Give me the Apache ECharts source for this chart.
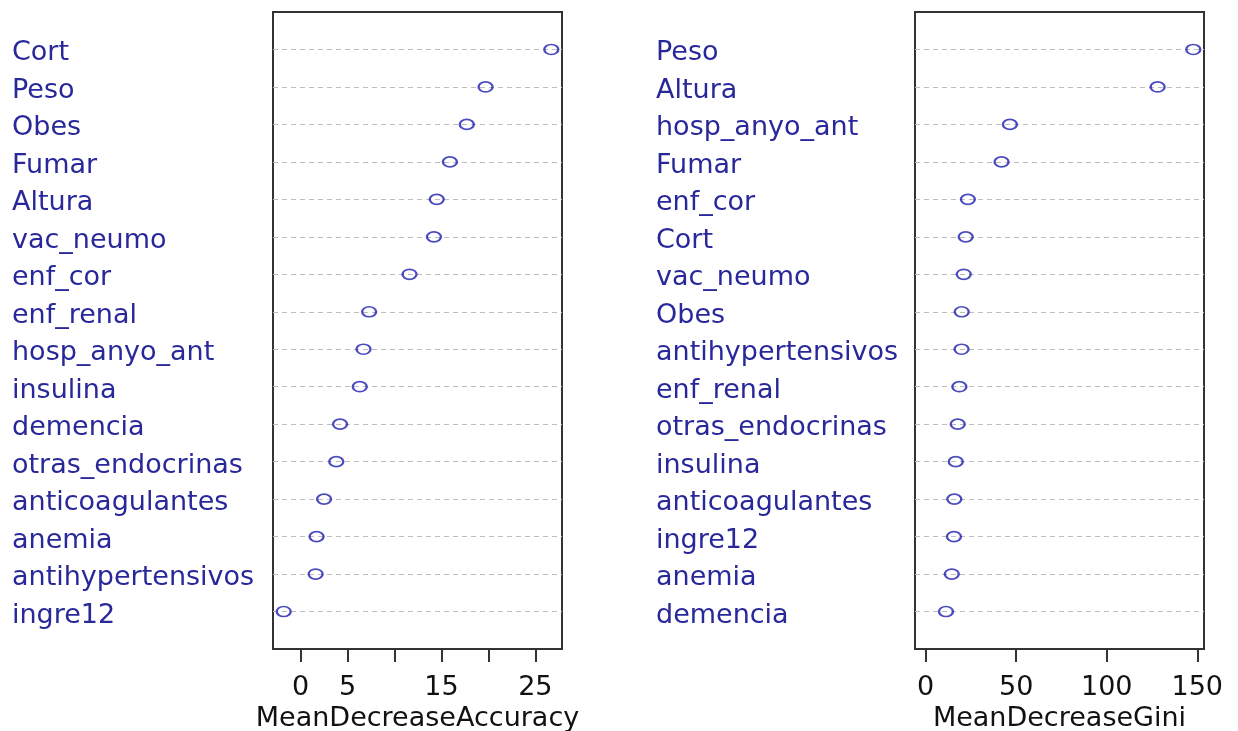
<!DOCTYPE html>
<html>
<head>
    <meta charset="utf-8">
    <title>Variable importance</title>
    <script src="https://cdn.jsdelivr.net/npm/echarts@6/dist/echarts.min.js"></script>
</head>
<body style="margin:0;background:#fff;">
    <div id="main" style="width:1238px;height:731px;"></div>
    <script type="text/javascript">
        // MeanDecreaseAccuracy panel, listed top to bottom
        var accLabels = ['Cort', 'Peso', 'Obes', 'Fumar', 'Altura', 'vac_neumo', 'enf_cor', 'enf_renal',
            'hosp_anyo_ant', 'insulina', 'demencia', 'otras_endocrinas', 'anticoagulantes', 'anemia',
            'antihypertensivos', 'ingre12'];
        var accValues = [26.7, 19.7, 17.7, 15.9, 14.5, 14.2, 11.6, 7.3, 6.7, 6.3, 4.2, 3.8, 2.5, 1.7, 1.6, -1.8];
        var accTicks = [0, 5, 10, 15, 20, 25];
        var accTickLabels = [0, 5, 15, 25];

        // MeanDecreaseGini panel, listed top to bottom
        var giniLabels = ['Peso', 'Altura', 'hosp_anyo_ant', 'Fumar', 'enf_cor', 'Cort', 'vac_neumo', 'Obes',
            'antihypertensivos', 'enf_renal', 'otras_endocrinas', 'insulina', 'anticoagulantes', 'ingre12',
            'anemia', 'demencia'];
        var giniValues = [147.8, 128.1, 46.5, 41.9, 23.3, 22.1, 21.0, 19.9, 19.8, 18.6, 17.7, 16.6, 15.8, 15.6, 14.4, 11.2];
        var giniTicks = [0, 50, 100, 150];
        var giniTickLabels = [0, 50, 100, 150];

        var font = 'DejaVu Sans';
        var labelBlue = '#28289a';
        var pointBlue = '#1e1eb0';

        // R-style range: data range padded by 4%
        function padRange(lo, hi) {
            var d = (hi - lo) * 0.04;
            return [lo - d, hi + d];
        }

        function toPoints(values) {
            var n = values.length;
            return values.map(function (v, i) { return [v, n - i]; });
        }

        function yAxisFor(idx, labels, margin) {
            var n = labels.length;
            return {
                gridIndex: idx,
                type: 'value',
                min: 0,
                max: n + 1,
                interval: 1,
                axisLine: { show: false },
                axisTick: { show: false },
                axisLabel: {
                    margin: margin,
                    align: 'left',
                    verticalAlign: 'top',
                    lineHeight: 8,
                    color: labelBlue,
                    fontFamily: font,
                    fontSize: 27,
                    formatter: function (v) {
                        return (v >= 1 && v <= n) ? labels[n - v] : '';
                    }
                },
                splitLine: {
                    show: true,
                    showMinLine: false,
                    showMaxLine: false,
                    lineStyle: { color: '#bdbdbd', type: [5, 4], width: 1 }
                }
            };
        }

        function xAxisFor(idx, range, ticks, tickLabels, name) {
            return {
                gridIndex: idx,
                type: 'value',
                min: range[0],
                max: range[1],
                axisLine: { show: false },
                axisTick: {
                    show: true,
                    length: 13,
                    customValues: ticks,
                    lineStyle: { color: '#333', width: 2 }
                },
                axisLabel: {
                    customValues: tickLabels,
                    margin: 25,
                    color: '#111',
                    fontFamily: font,
                    fontSize: 27
                },
                splitLine: { show: false },
                name: name,
                nameLocation: 'middle',
                nameGap: 54,
                nameTextStyle: { color: '#111', fontFamily: font, fontSize: 27 }
            };
        }

        var accRange = padRange(Math.min.apply(null, accValues), Math.max.apply(null, accValues));
        var giniRange = padRange(0, Math.max.apply(null, giniValues));

        var myChart = echarts.init(document.getElementById('main'));

        var pointStyle = {
            color: 'rgba(0,0,0,0)',
            borderColor: pointBlue,
            borderWidth: 2
        };

        var option = {
            animation: false,
            backgroundColor: '#fff',
            grid: [
                { left: 273, right: 676, top: 12, bottom: 82, show: true, borderColor: '#333', borderWidth: 2, outerBoundsMode: 'none' },
                { left: 915, right: 34, top: 12, bottom: 82, show: true, borderColor: '#333', borderWidth: 2, outerBoundsMode: 'none' }
            ],
            xAxis: [
                xAxisFor(0, accRange, accTicks, accTickLabels, 'MeanDecreaseAccuracy'),
                xAxisFor(1, giniRange, giniTicks, giniTickLabels, 'MeanDecreaseGini')
            ],
            yAxis: [
                yAxisFor(0, accLabels, 261),
                yAxisFor(1, giniLabels, 259)
            ],
            series: [
                {
                    type: 'scatter',
                    xAxisIndex: 0,
                    yAxisIndex: 0,
                    symbol: 'circle',
                    symbolSize: [14, 10],
                    itemStyle: pointStyle,
                    data: toPoints(accValues)
                },
                {
                    type: 'scatter',
                    xAxisIndex: 1,
                    yAxisIndex: 1,
                    symbol: 'circle',
                    symbolSize: [14, 10],
                    itemStyle: pointStyle,
                    data: toPoints(giniValues)
                }
            ]
        };

        myChart.setOption(option);
    </script>
</body>
</html>
